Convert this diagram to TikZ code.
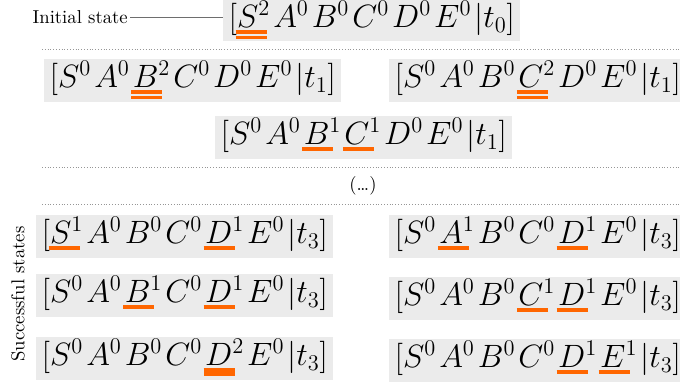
\documentclass[tikz,border=0pt]{standalone}
\usepackage{xcolor}
\definecolor{uor}{RGB}{255,102,0}
\definecolor{boxgray}{RGB}{235,235,235}
\definecolor{linegray}{RGB}{110,110,110}
\definecolor{dotgray}{RGB}{150,150,150}
\newlength\ulw
\setlength\ulw{16.6pt}
\newcommand\ulone[1]{\rlap{\hspace{-0.8pt}\color{uor}\rule[-3.3pt]{\ulw}{1.8pt}}#1}
\newcommand\ultwo[1]{\rlap{\hspace{-0.8pt}\color{uor}\rule[-3.4pt]{\ulw}{1.8pt}\hspace{-\ulw}\rule[-6.3pt]{\ulw}{1.8pt}}#1}
\newcommand\ulthick[1]{\rlap{\hspace{-0.8pt}\color{uor}\rule[-5.4pt]{\ulw}{3.8pt}}#1}
\newcommand\g{\mkern1.65mu}
\tikzset{
  state/.style={fill=boxgray, inner xsep=3pt, inner ysep=0pt, text height=15pt, text depth=8pt, font=\LARGE, anchor=north west},
  topstate/.style={state, text height=14.5pt, text depth=7.5pt},
  sep/.style={dotgray, densely dotted, line width=0.5pt},
  lbl/.style={font=\normalsize, inner sep=1pt}
}
\begin{document}
\begin{tikzpicture}[x=0.535pt, y=-0.535pt]
\useasboundingbox (0,0) rectangle (680,382);
\node[topstate] (s0) at (223,0) {$[\ultwo{S}^2\g A^0\g B^0\g C^0\g D^0\g E^0\g|t_0]$};
\node[lbl, anchor=east] (init) at (130,17) {Initial state};
\draw[linegray, line width=0.5pt] (init.east) -- (init.east -| s0.west);
\coordinate (d1a) at (42,49);
\coordinate (d1b) at (680,49);
\draw[sep] (d1a) -- (d1b);
\node[state] (r1l) at (44,59) {$[S^0\g A^0\g \ultwo{B}^2\g C^0\g D^0\g E^0\g|t_1]$};
\node[state] (r1r) at (389,59) {$[S^0\g A^0\g B^0\g \ultwo{C}^2\g D^0\g E^0\g|t_1]$};
\node[state] (r2) at (215,116) {$[S^0\g A^0\g \ulone{B}^1\g \ulone{C}^1\g D^0\g E^0\g|t_1]$};
\coordinate (d2a) at (42,167);
\coordinate (d2b) at (680,167);
\draw[sep] (d2a) -- (d2b);
\node[lbl] (dots) at (363,186) {(\ldots)};
\coordinate (d3a) at (42,204);
\coordinate (d3b) at (680,204);
\draw[sep] (d3a) -- (d3b);
\node[state] (sa) at (36,215) {$[\ulone{S}^1\g A^0\g B^0\g C^0\g \ulone{D}^1\g E^0\g|t_3]$};
\node[state] (sb) at (36,274) {$[S^0\g A^0\g \ulone{B}^1\g C^0\g \ulone{D}^1\g E^0\g|t_3]$};
\node[state] (sc) at (36,337) {$[S^0\g A^0\g B^0\g C^0\g \ulthick{D}^2\g E^0\g|t_3]$};
\node[state] (ta) at (389,215) {$[S^0\g \ulone{A}^1\g B^0\g C^0\g \ulone{D}^1\g E^0\g|t_3]$};
\node[state] (tb) at (389,277) {$[S^0\g A^0\g B^0\g \ulone{C}^1\g \ulone{D}^1\g E^0\g|t_3]$};
\node[state] (tc) at (389,339) {$[S^0\g A^0\g B^0\g C^0\g \ulone{D}^1\g \ulone{E}^1\g|t_3]$};
\node[lbl, rotate=90] (succ) at (18,294) {Successful states};
\end{tikzpicture}
\end{document}
